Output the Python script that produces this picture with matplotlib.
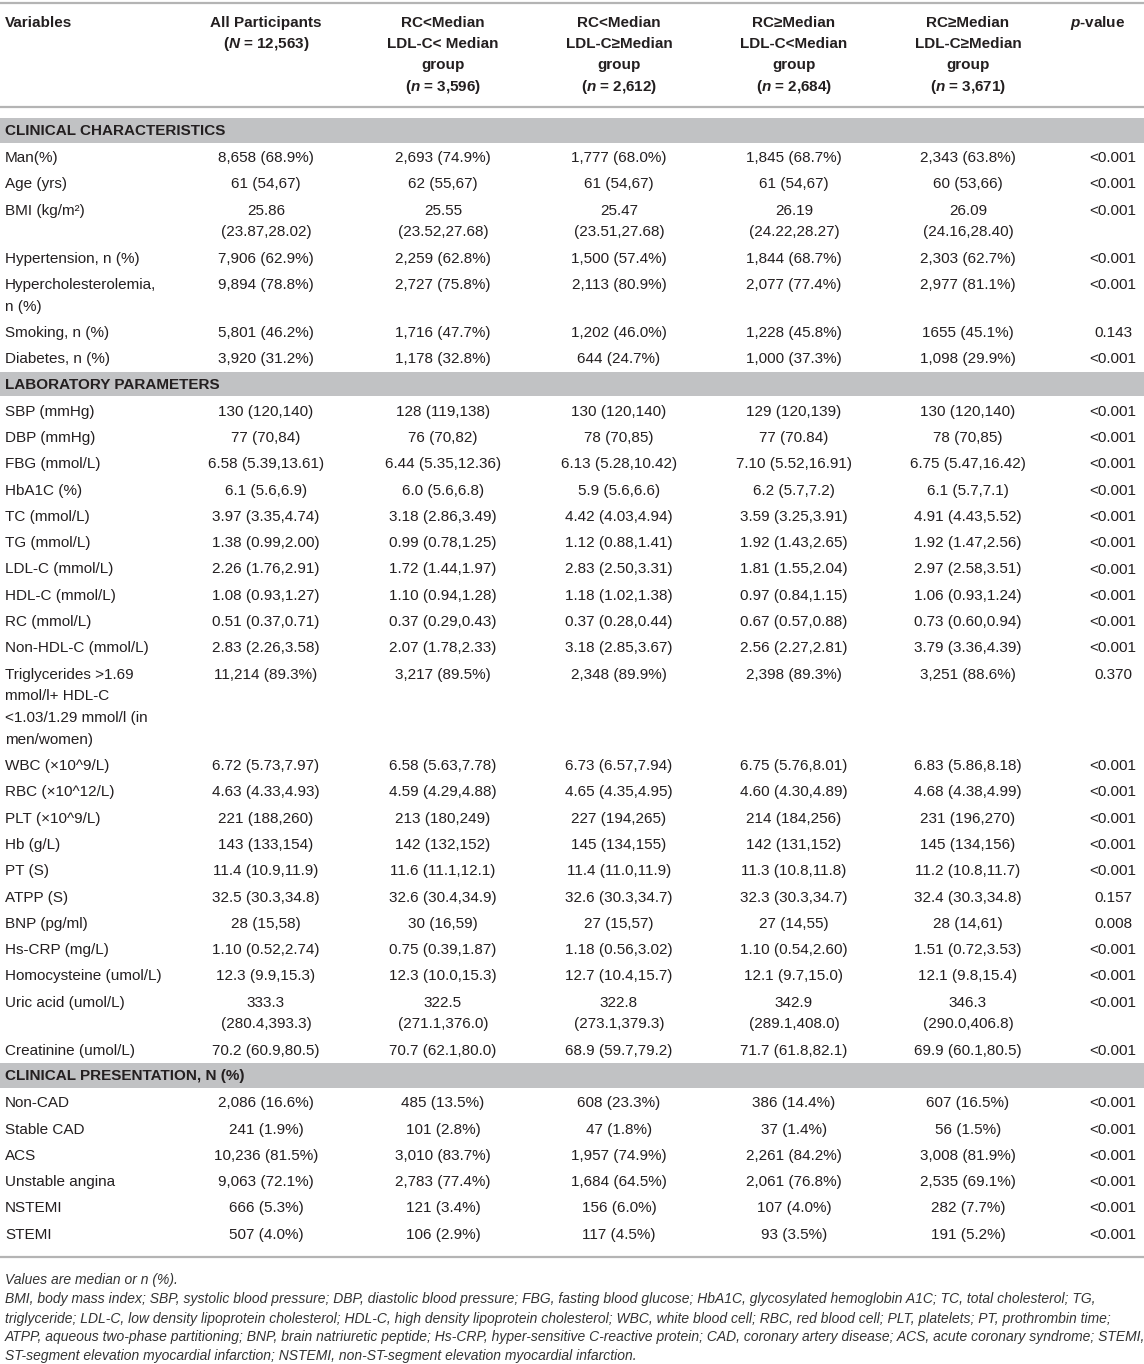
import matplotlib
matplotlib.use("Agg")
import matplotlib.pyplot as plt

plt.rcParams['font.family'] = ['Liberation Sans', 'DejaVu Sans']
plt.rcParams['mathtext.fontset'] = 'custom'
plt.rcParams['mathtext.it'] = 'Liberation Sans:italic:bold'
plt.rcParams['mathtext.rm'] = 'Liberation Sans:bold'
plt.rcParams['mathtext.bf'] = 'Liberation Sans:bold'

W, H = 1144, 1364
INK = '#231f20'
BAND = '#c1c2c4'
RULE = '#b4b4b4'

# header of each column (one entry per line)
col_headers = [
    ["Variables"],
    ["All Participants", "($N$ = 12,563)"],
    ["RC<Median", "LDL-C< Median", "group", "($n$ = 3,596)"],
    ["RC<Median", "LDL-C≥Median", "group", "($n$ = 2,612)"],
    ["RC≥Median", "LDL-C<Median", "group", "($n$ = 2,684)"],
    ["RC≥Median", "LDL-C≥Median", "group", "($n$ = 3,671)"],
    ["$p$-value"],
]

# ---- clinical characteristics
clin_labels = ["Man(%)", "Age (yrs)", "BMI (kg/m²)", "Hypertension, n (%)",
               "Hypercholesterolemia,\nn (%)", "Smoking, n (%)", "Diabetes, n (%)"]
clin_all = ["8,658 (68.9%)", "61 (54,67)", "25.86\n(23.87,28.02)", "7,906 (62.9%)",
            "9,894 (78.8%)", "5,801 (46.2%)", "3,920 (31.2%)"]
clin_g1 = ["2,693 (74.9%)", "62 (55,67)", "25.55\n(23.52,27.68)", "2,259 (62.8%)",
           "2,727 (75.8%)", "1,716 (47.7%)", "1,178 (32.8%)"]
clin_g2 = ["1,777 (68.0%)", "61 (54,67)", "25.47\n(23.51,27.68)", "1,500 (57.4%)",
           "2,113 (80.9%)", "1,202 (46.0%)", "644 (24.7%)"]
clin_g3 = ["1,845 (68.7%)", "61 (54,67)", "26.19\n(24.22,28.27)", "1,844 (68.7%)",
           "2,077 (77.4%)", "1,228 (45.8%)", "1,000 (37.3%)"]
clin_g4 = ["2,343 (63.8%)", "60 (53,66)", "26.09\n(24.16,28.40)", "2,303 (62.7%)",
           "2,977 (81.1%)", "1655 (45.1%)", "1,098 (29.9%)"]
clin_p = ["<0.001", "<0.001", "<0.001", "<0.001", "<0.001", "0.143", "<0.001"]

# ---- laboratory parameters
lab_labels = ["SBP (mmHg)", "DBP (mmHg)", "FBG (mmol/L)", "HbA1C (%)", "TC (mmol/L)",
              "TG (mmol/L)", "LDL-C (mmol/L)", "HDL-C (mmol/L)", "RC (mmol/L)",
              "Non-HDL-C (mmol/L)",
              "Triglycerides >1.69\nmmol/l+ HDL-C\n<1.03/1.29 mmol/l (in\nmen/women)",
              "WBC (×10^9/L)", "RBC (×10^12/L)", "PLT (×10^9/L)", "Hb (g/L)", "PT (S)",
              "ATPP (S)", "BNP (pg/ml)", "Hs-CRP (mg/L)", "Homocysteine (umol/L)",
              "Uric acid (umol/L)", "Creatinine (umol/L)"]
lab_all = ["130 (120,140)", "77 (70,84)", "6.58 (5.39,13.61)", "6.1 (5.6,6.9)",
           "3.97 (3.35,4.74)", "1.38 (0.99,2.00)", "2.26 (1.76,2.91)", "1.08 (0.93,1.27)",
           "0.51 (0.37,0.71)", "2.83 (2.26,3.58)", "11,214 (89.3%)", "6.72 (5.73,7.97)",
           "4.63 (4.33,4.93)", "221 (188,260)", "143 (133,154)", "11.4 (10.9,11.9)",
           "32.5 (30.3,34.8)", "28 (15,58)", "1.10 (0.52,2.74)", "12.3 (9.9,15.3)",
           "333.3\n(280.4,393.3)", "70.2 (60.9,80.5)"]
lab_g1 = ["128 (119,138)", "76 (70,82)", "6.44 (5.35,12.36)", "6.0 (5.6,6.8)",
          "3.18 (2.86,3.49)", "0.99 (0.78,1.25)", "1.72 (1.44,1.97)", "1.10 (0.94,1.28)",
          "0.37 (0.29,0.43)", "2.07 (1.78,2.33)", "3,217 (89.5%)", "6.58 (5.63,7.78)",
          "4.59 (4.29,4.88)", "213 (180,249)", "142 (132,152)", "11.6 (11.1,12.1)",
          "32.6 (30.4,34.9)", "30 (16,59)", "0.75 (0.39,1.87)", "12.3 (10.0,15.3)",
          "322.5\n(271.1,376.0)", "70.7 (62.1,80.0)"]
lab_g2 = ["130 (120,140)", "78 (70,85)", "6.13 (5.28,10.42)", "5.9 (5.6,6.6)",
          "4.42 (4.03,4.94)", "1.12 (0.88,1.41)", "2.83 (2.50,3.31)", "1.18 (1.02,1.38)",
          "0.37 (0.28,0.44)", "3.18 (2.85,3.67)", "2,348 (89.9%)", "6.73 (6.57,7.94)",
          "4.65 (4.35,4.95)", "227 (194,265)", "145 (134,155)", "11.4 (11.0,11.9)",
          "32.6 (30.3,34.7)", "27 (15,57)", "1.18 (0.56,3.02)", "12.7 (10.4,15.7)",
          "322.8\n(273.1,379.3)", "68.9 (59.7,79.2)"]
lab_g3 = ["129 (120,139)", "77 (70.84)", "7.10 (5.52,16.91)", "6.2 (5.7,7.2)",
          "3.59 (3.25,3.91)", "1.92 (1.43,2.65)", "1.81 (1.55,2.04)", "0.97 (0.84,1.15)",
          "0.67 (0.57,0.88)", "2.56 (2.27,2.81)", "2,398 (89.3%)", "6.75 (5.76,8.01)",
          "4.60 (4.30,4.89)", "214 (184,256)", "142 (131,152)", "11.3 (10.8,11.8)",
          "32.3 (30.3,34.7)", "27 (14,55)", "1.10 (0.54,2.60)", "12.1 (9.7,15.0)",
          "342.9\n(289.1,408.0)", "71.7 (61.8,82.1)"]
lab_g4 = ["130 (120,140)", "78 (70,85)", "6.75 (5.47,16.42)", "6.1 (5.7,7.1)",
          "4.91 (4.43,5.52)", "1.92 (1.47,2.56)", "2.97 (2.58,3.51)", "1.06 (0.93,1.24)",
          "0.73 (0.60,0.94)", "3.79 (3.36,4.39)", "3,251 (88.6%)", "6.83 (5.86,8.18)",
          "4.68 (4.38,4.99)", "231 (196,270)", "145 (134,156)", "11.2 (10.8,11.7)",
          "32.4 (30.3,34.8)", "28 (14,61)", "1.51 (0.72,3.53)", "12.1 (9.8,15.4)",
          "346.3\n(290.0,406.8)", "69.9 (60.1,80.5)"]
lab_p = ["<0.001"] * 10 + ["0.370"] + ["<0.001"] * 5 + ["0.157", "0.008"] + ["<0.001"] * 4

# ---- clinical presentation
pres_labels = ["Non-CAD", "Stable CAD", "ACS", "Unstable angina", "NSTEMI", "STEMI"]
pres_all = ["2,086 (16.6%)", "241 (1.9%)", "10,236 (81.5%)", "9,063 (72.1%)",
            "666 (5.3%)", "507 (4.0%)"]
pres_g1 = ["485 (13.5%)", "101 (2.8%)", "3,010 (83.7%)", "2,783 (77.4%)",
           "121 (3.4%)", "106 (2.9%)"]
pres_g2 = ["608 (23.3%)", "47 (1.8%)", "1,957 (74.9%)", "1,684 (64.5%)",
           "156 (6.0%)", "117 (4.5%)"]
pres_g3 = ["386 (14.4%)", "37 (1.4%)", "2,261 (84.2%)", "2,061 (76.8%)",
           "107 (4.0%)", "93 (3.5%)"]
pres_g4 = ["607 (16.5%)", "56 (1.5%)", "3,008 (81.9%)", "2,535 (69.1%)",
           "282 (7.7%)", "191 (5.2%)"]
pres_p = ["<0.001"] * 6

sections = [
    ("CLINICAL CHARACTERISTICS",
     [clin_labels, clin_all, clin_g1, clin_g2, clin_g3, clin_g4, clin_p]),
    ("LABORATORY PARAMETERS",
     [lab_labels, lab_all, lab_g1, lab_g2, lab_g3, lab_g4, lab_p]),
    ("CLINICAL PRESENTATION, N (%)",
     [pres_labels, pres_all, pres_g1, pres_g2, pres_g3, pres_g4, pres_p]),
]

footnotes = [
    "Values are median or n (%).",
    "BMI, body mass index; SBP, systolic blood pressure; DBP, diastolic blood pressure; "
    "FBG, fasting blood glucose; HbA1C, glycosylated hemoglobin A1C; TC, total cholesterol; TG,",
    "triglyceride; LDL-C, low density lipoprotein cholesterol; HDL-C, high density lipoprotein "
    "cholesterol; WBC, white blood cell; RBC, red blood cell; PLT, platelets; PT, prothrombin time;",
    "ATPP, aqueous two-phase partitioning; BNP, brain natriuretic peptide; Hs-CRP, hyper-sensitive "
    "C-reactive protein; CAD, coronary artery disease; ACS, acute coronary syndrome; STEMI,",
    "ST-segment elevation myocardial infarction; NSTEMI, non-ST-segment elevation myocardial infarction.",
]

# layout (pixels)
col_x = [5, 266, 443, 619, 794, 968, 1113]
ROW = 26.3
LINE = 21.7
FS = 11
BASE = 5  # baseline offset from the line centre


def cell(ax, x, y, txt, ha='center', **kw):
    for i, part in enumerate(txt.split('\n')):
        ax.text(x, y + i * LINE + BASE, part, ha=ha, va='baseline',
                fontsize=FS, color=INK, **kw)


fig = plt.figure(figsize=(W / 100, H / 100), dpi=100)
ax = fig.add_axes([0, 0, 1, 1])
ax.set_xlim(0, W)
ax.set_ylim(H, 0)
ax.axis('off')

# header
ax.axhline(3, color=RULE, lw=1.6)
head_y = [22, 43, 64.5, 86]
for j, lines in enumerate(col_headers):
    x = col_x[j]
    ha = 'left' if j == 0 else 'center'
    if j == len(col_headers) - 1:
        x = 1098
    for i, part in enumerate(lines):
        ax.text(x, head_y[i] + BASE, part, ha=ha, va='baseline', fontsize=FS,
                fontweight='bold', color=INK)
ax.axhline(107, color=RULE, lw=1.6)

y = 130
for title, cols in sections:
    ax.axhspan(y - 12, y + 12.5, color=BAND, lw=0)
    ax.text(5, y + BASE, title, ha='left', va='baseline', fontsize=FS,
            fontweight='bold', color=INK)
    y += 27
    n_rows = len(cols[0])
    for r in range(n_rows):
        nl = max(c[r].count('\n') + 1 for c in cols)
        for j, c in enumerate(cols):
            cell(ax, col_x[j], y, c[r], ha='left' if j == 0 else 'center')
        last = y + (nl - 1) * LINE
        y = last + ROW
    y = last + 25.5

ax.axhline(last + 23, color=RULE, lw=1.6)

# footnotes, sized so the longest line spans the table width
foot_y = [1280, 1299.5, 1318.5, 1337.5, 1356]
fig.canvas.draw()
renderer = fig.canvas.get_renderer()
probe = [ax.text(0, 0, s, fontsize=10, style='italic') for s in footnotes]
widest = max(t.get_window_extent(renderer).width for t in probe)
for t in probe:
    t.remove()
foot_fs = 10 * 1136 / widest
for yy, s in zip(foot_y, footnotes):
    ax.text(5, yy + 4, s, ha='left', va='baseline', fontsize=foot_fs,
            style='italic', color='#333333')

fig.savefig('out.png', dpi=100)
